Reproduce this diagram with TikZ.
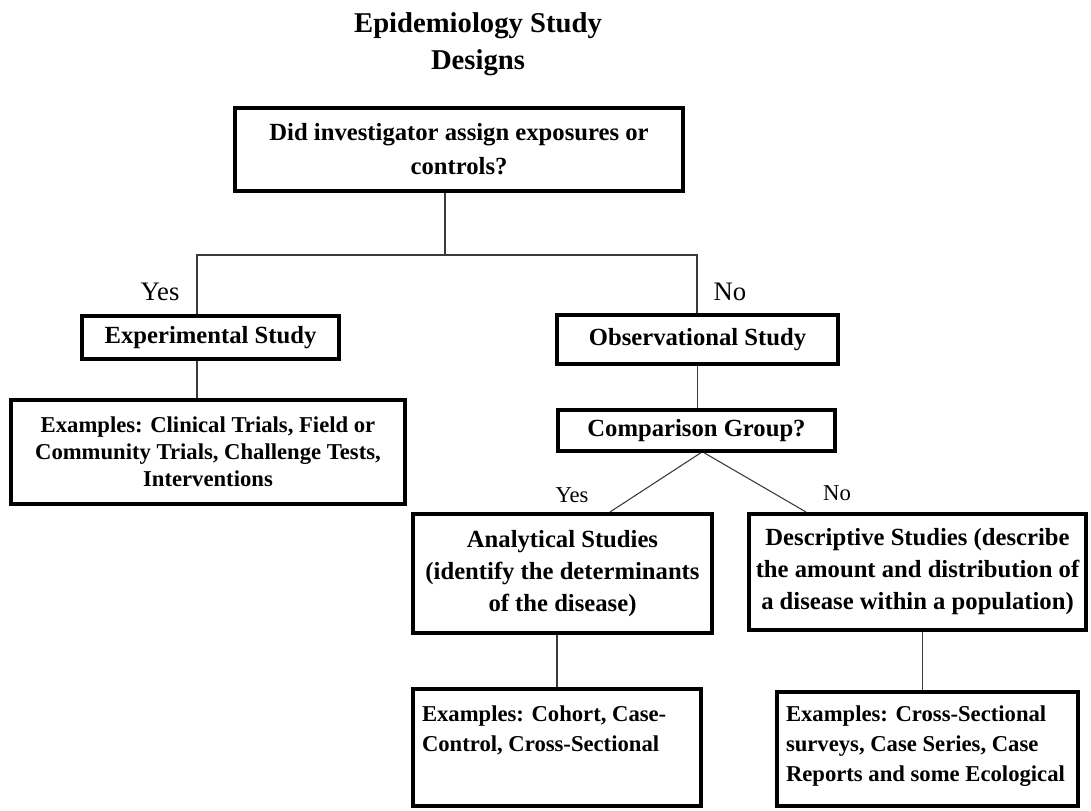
\documentclass[tikz,border=0pt]{standalone}
\usepackage{fontspec}
\setmainfont{Liberation Serif}
\definecolor{cline}{HTML}{3A3A3A}
\tikzset{
  bx/.style={draw=black,line width=3pt,align=center,inner sep=0pt,fill=white,font=\fontsize{18.5}{24}\selectfont\bfseries},
  exbx/.style={bx,font=\fontsize{17}{22.5}\selectfont\bfseries},
  link/.style={cline,line width=0.8pt},
  ans/.style={font=\fontsize{20}{24}\selectfont},
  anss/.style={font=\fontsize{17}{20}\selectfont}}

\begin{document}
\begin{tikzpicture}[x=0.75pt,y=-0.75pt]
\useasboundingbox (0,0) rectangle (1091,810);
\fill[white] (0,0) rectangle (1091,810);

% ================= title =================
\node[font=\fontsize{21.5}{27.75}\selectfont\bfseries,align=center] (title) at (478,44) {Epidemiology Study\\Designs};

% ================= first question =================
\node[bx,minimum width=336pt,minimum height=62.25pt,font=\fontsize{18.5}{25.5}\selectfont\bfseries] (q) at (459,149.5) {Did investigator assign exposures or\\controls?};

% ================= yes: experimental =================
\node[bx,minimum width=192.75pt,minimum height=32.25pt] (exp) at (210.5,337.5) {Experimental Study};
\node[bx,minimum width=295.5pt,minimum height=78pt,font=\fontsize{17}{20.25}\selectfont\bfseries] (exex) at (208,452)
   {Examples: Clinical Trials, Field or\\Community Trials, Challenge Tests,\\Interventions};

% ================= no: observational =================
\node[bx,minimum width=210.75pt,minimum height=36.75pt] (obs) at (697.5,339.5) {Observational Study};
\node[bx,minimum width=207.75pt,minimum height=30.75pt] (comp) at (696.5,430.5) {Comparison Group?};
\node[bx,minimum width=224.25pt,minimum height=89.25pt] (ana) at (562.5,573.5) {Analytical Studies\\(identify the determinants\\of the disease)};
\node[bx,minimum width=252.75pt,minimum height=87pt] (des) at (917.5,572) {Descriptive Studies (describe\\the amount and distribution of\\a disease within a population)};
\node[exbx,minimum width=216pt,minimum height=87.75pt] (anaex) at (557,747.5)
   {\parbox[c][62.25pt][t]{202.5pt}{\raggedright Examples: Cohort, Case-\\Control, Cross-Sectional}};
\node[exbx,minimum width=225.75pt,minimum height=85.5pt] (desex) at (927.5,749)
   {\parbox[c][64.5pt][t]{212.25pt}{\raggedright Examples: Cross-Sectional\\surveys, Case Series, Case\\Reports and some Ecological}};

% ================= answers =================
\node[ans] (yes1) at (160,292) {Yes};
\node[ans] (no1) at (730,292) {No};
\node[anss] (yes2) at (572,495) {Yes};
\node[anss] (no2) at (837,493) {No};

% ================= connectors =================
\coordinate (j) at (445,255);
\coordinate (jl) at (197,255);
\coordinate (jr) at (697,255);
\draw[link] (q.south -| j) -- (j) -| (exp.north -| jl);
\draw[link] (j) -| (obs.north -| jr);
\draw[link] (exp.south -| jl) -- (exex.north -| jl);
\draw[link] (obs.south) -- (obs.south |- comp.north);
\draw[link] ([xshift=3pt]comp.south) -- ([xshift=35.6pt]ana.north);
\draw[link] ([xshift=6pt]comp.south) -- ([xshift=-83.6pt]des.north);
\draw[link] (anaex.north |- ana.south) -- (anaex.north);
\draw[link] ([xshift=3.4pt]des.south) -- ([xshift=3.4pt]des.south |- desex.north);

\end{tikzpicture}
\end{document}
